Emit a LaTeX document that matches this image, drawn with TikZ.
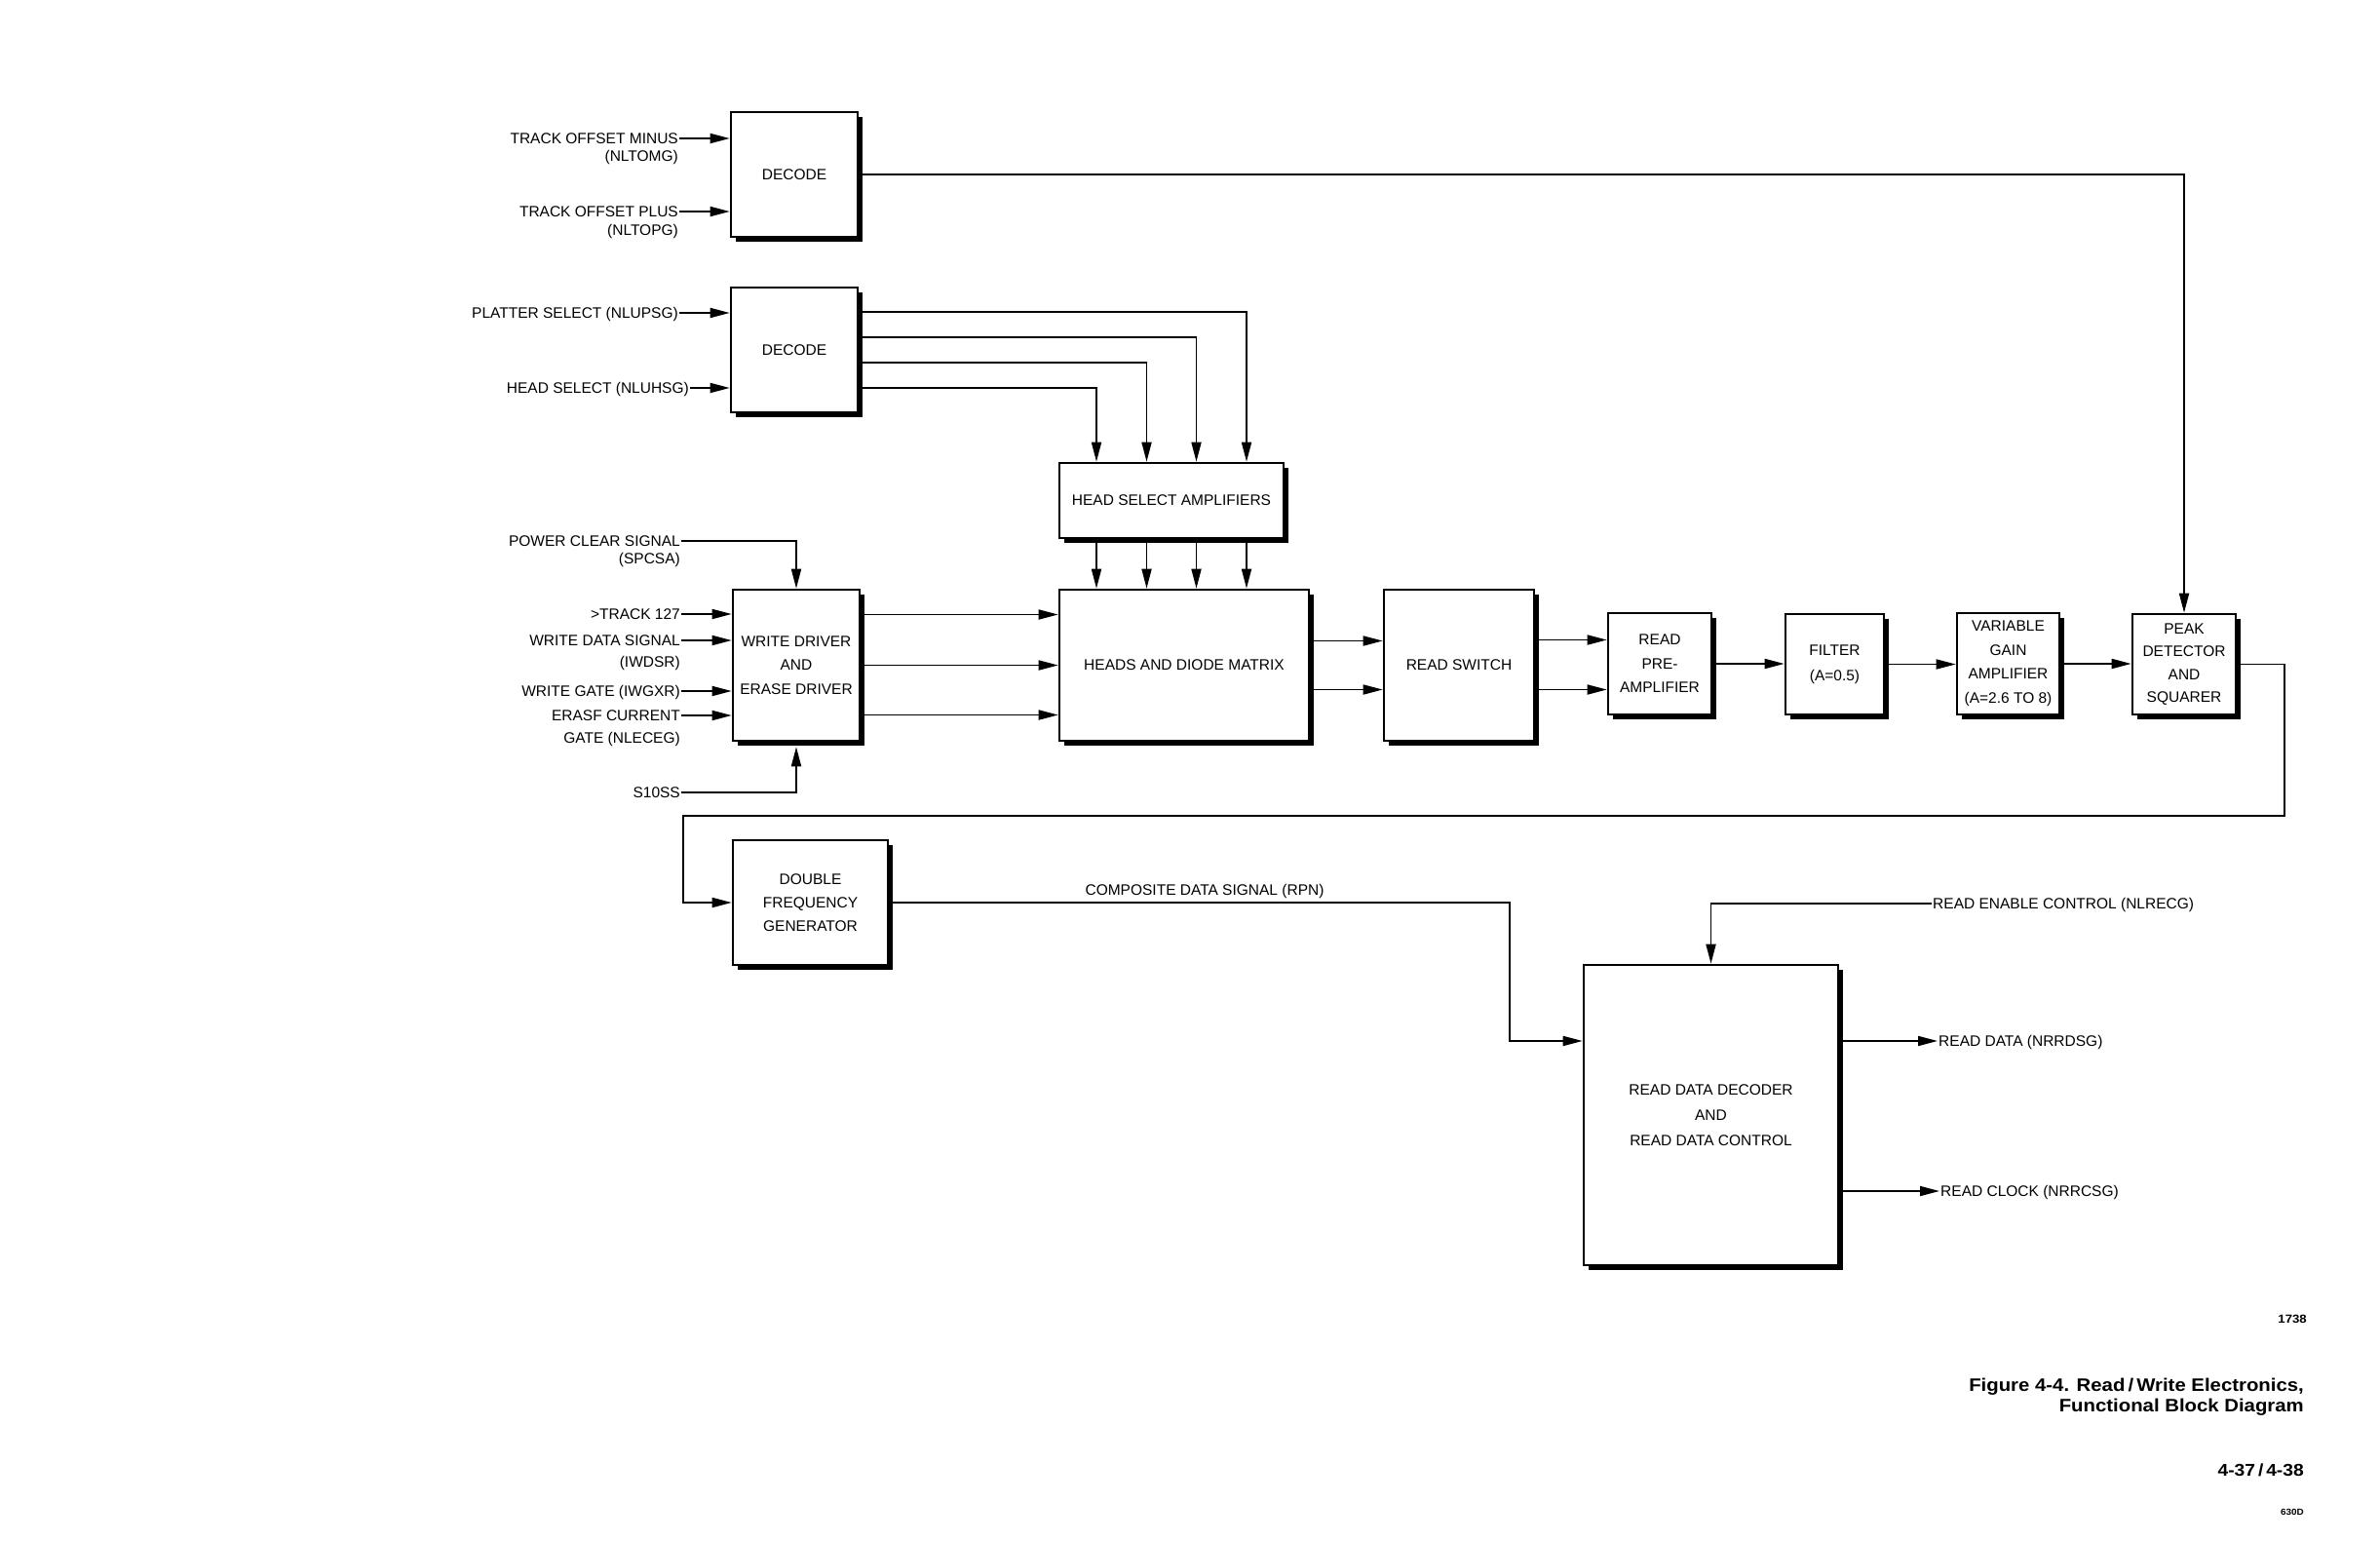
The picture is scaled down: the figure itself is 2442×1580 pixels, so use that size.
\documentclass[tikz,border=0pt]{standalone}
\usepackage{fontspec}
\setmainfont{Liberation Sans}
\newfontfamily\capfont[FakeStretch=1.1]{Liberation Sans}
\usetikzlibrary{arrows.meta,shadows}
\begin{document}
\begin{tikzpicture}[x=1pt,y=-1pt,
  blk/.style={draw, line width=2.6pt, fill=white, align=center, inner sep=0pt,
    font=\fontsize{15.5}{24.5}\selectfont,
    general shadow={fill=black, shadow xshift=5pt, shadow yshift=-5pt}},
  lbl/.style={font=\fontsize{15.5}{19}\selectfont, inner sep=1pt, text height=11.1pt, text depth=0pt},
  captxt/.style={font=\capfont\bfseries\fontsize{18.5}{21}\selectfont, inner sep=0pt},
  arr/.style={line width=1.8pt, -{Triangle[length=20pt,width=10pt]}}]
\fill[white] (0,0) rectangle (2442,1580);
\useasboundingbox (0,0) rectangle (2442,1580);

% ---------- blocks ----------
\node[blk, minimum width=130pt, minimum height=128pt] (dec1) at (815,179) {DECODE};
\node[blk, minimum width=130pt, minimum height=128pt] (dec2) at (815,359) {DECODE};
\node[blk, minimum width=130pt, minimum height=155pt] (wd) at (817,682.5) {WRITE DRIVER\\AND\\ERASE DRIVER};
\node[blk, minimum width=230pt, minimum height=77pt] (hsa) at (1202,513.5) {HEAD SELECT AMPLIFIERS};
\node[blk, minimum width=256pt, minimum height=155pt] (hdm) at (1215,682.5) {HEADS AND DIODE MATRIX};
\node[blk, minimum width=154pt, minimum height=155pt] (rs) at (1497,682.5) {READ SWITCH};
\node[blk, minimum width=106pt, minimum height=104pt] (rpa) at (1703,681) {READ\\PRE-\\AMPLIFIER};
\node[blk, minimum width=101pt, minimum height=103pt, font=\fontsize{15.5}{26}\selectfont] (fil) at (1882.5,681.5) {FILTER\\(A=0.5)};
\node[blk, minimum width=105pt, minimum height=104pt] (vga) at (2060.5,681) {VARIABLE\\GAIN\\AMPLIFIER\\(A=2.6 TO 8)};
\node[blk, minimum width=106pt, minimum height=103pt, font=\fontsize{15.5}{23.5}\selectfont] (pds) at (2241,681.5) {PEAK\\DETECTOR\\AND\\SQUARER};
\node[blk, minimum width=159pt, minimum height=128pt, font=\fontsize{15.5}{24}\selectfont] (dfg) at (831.5,926) {DOUBLE\\FREQUENCY\\GENERATOR};
\node[blk, minimum width=261pt, minimum height=308pt, font=\fontsize{15.5}{26}\selectfont] (rdd) at (1755.5,1144) {READ DATA DECODER\\AND\\READ DATA CONTROL};

% ---------- input labels ----------
\node[lbl, anchor=east] (tom) at (697,142) {TRACK OFFSET MINUS};
\node[lbl, anchor=east] (tom2) at (697,160) {(NLTOMG)};
\node[lbl, anchor=east] (top) at (697,217) {TRACK OFFSET PLUS};
\node[lbl, anchor=east] (top2) at (697,236) {(NLTOPG)};
\node[lbl, anchor=east] (ps) at (697,321) {PLATTER SELECT (NLUPSG)};
\node[lbl, anchor=east] (hs) at (708,398) {HEAD SELECT (NLUHSG)};
\node[lbl, anchor=east] (pc) at (699,555) {POWER CLEAR SIGNAL};
\node[lbl, anchor=east] (pc2) at (699,573) {(SPCSA)};
\node[lbl, anchor=east] (t127) at (699,630) {>TRACK 127};
\node[lbl, anchor=east] (wds) at (699,657) {WRITE DATA SIGNAL};
\node[lbl, anchor=east] (wds2) at (699,679) {(IWDSR)};
\node[lbl, anchor=east] (wg) at (699,709) {WRITE GATE (IWGXR)};
\node[lbl, anchor=east] (ec) at (699,734) {ERASF CURRENT};
\node[lbl, anchor=east] (ec2) at (699,757) {GATE (NLECEG)};
\node[lbl, anchor=east] (s10) at (699,813) {S10SS};

% ---------- input connectors ----------
\draw[arr] (tom.east) -- (tom.east -| dec1.west);
\draw[arr] (top.east) -- (top.east -| dec1.west);
\draw[arr] (ps.east) -- (ps.east -| dec2.west);
\draw[arr] (hs.east) -- (hs.east -| dec2.west);
\draw[arr] (pc.east) -| (wd.north);
\draw[arr] (t127.east) -- (t127.east -| wd.west);
\draw[arr] (wds.east) -- (wds.east -| wd.west);
\draw[arr] (wg.east) -- (wg.east -| wd.west);
\draw[arr] (ec.east) -- (ec.east -| wd.west);
\path (wd.south) ++(0,5) coordinate (wdb);
\draw[arr] (s10.east) -| (wdb);

% ---------- decode 1 to peak detector ----------
\draw[arr] (dec1.east) -| (pds.north);

% ---------- decode 2 to head select amplifiers ----------
\path (dec2.east) ++(0,-39) coordinate (d2a);
\path (dec2.east) ++(0,-13) coordinate (d2b);
\path (dec2.east) ++(0,13) coordinate (d2c);
\path (dec2.east) ++(0,39) coordinate (d2d);
\path (hsa.north) ++(77,0) coordinate (ha);
\path (hsa.north) ++(25.5,0) coordinate (hb);
\path (hsa.north) ++(-25.5,0) coordinate (hc);
\path (hsa.north) ++(-77,0) coordinate (hd);
\draw[arr] (d2a) -| (ha);
\draw[arr] (d2b) -| (hb);
\draw[arr] (d2c) -| (hc);
\draw[arr] (d2d) -| (hd);

% ---------- head select amplifiers to heads ----------
\path (hsa.south) ++(77,0) coordinate (sa);
\path (hsa.south) ++(25.5,0) coordinate (sb);
\path (hsa.south) ++(-25.5,0) coordinate (sc);
\path (hsa.south) ++(-77,0) coordinate (sd);
\draw[arr] (sa) -- (sa |- hdm.north);
\draw[arr] (sb) -- (sb |- hdm.north);
\draw[arr] (sc) -- (sc |- hdm.north);
\draw[arr] (sd) -- (sd |- hdm.north);

% ---------- write driver to heads ----------
\path (wd.east) ++(0,-52) coordinate (w1);
\path (wd.east) ++(0,0) coordinate (w2);
\path (wd.east) ++(0,51) coordinate (w3);
\draw[arr] (w1) -- (w1 -| hdm.west);
\draw[arr] (w2) -- (w2 -| hdm.west);
\draw[arr] (w3) -- (w3 -| hdm.west);

% ---------- read chain ----------
\path (hdm.east) ++(0,-25) coordinate (m1);
\path (hdm.east) ++(0,25) coordinate (m2);
\draw[arr] (m1) -- (m1 -| rs.west);
\draw[arr] (m2) -- (m2 -| rs.west);
\path (rs.east) ++(0,-26) coordinate (r1);
\path (rs.east) ++(0,25) coordinate (r2);
\draw[arr] (r1) -- (r1 -| rpa.west);
\draw[arr] (r2) -- (r2 -| rpa.west);
\draw[arr] (rpa.east) -- (rpa.east -| fil.west);
\draw[arr] (fil.east) -- (fil.east -| vga.west);
\draw[arr] (vga.east) -- (vga.east -| pds.west);

% ---------- loop back to double frequency generator ----------
\coordinate (c1) at (2344,837);
\coordinate (c2) at (701,837);
\draw[arr] (pds.east) -| (c1) -- (c2) |- (dfg.west);

% ---------- composite data signal ----------
\coordinate (c3) at (1549,1068);
\path (rdd.west) ++(0,-76) coordinate (rin);
\draw[arr] (dfg.east) -| (c3) -- (rin);
\node[lbl] (cds) at (1236,913) {COMPOSITE DATA SIGNAL (RPN)};

% ---------- read data decoder I/O ----------
\node[lbl, anchor=west] (rec) at (1982,927) {READ ENABLE CONTROL (NLRECG)};
\draw[arr] (rec.west) -| (rdd.north);
\node[lbl, anchor=west] (rdat) at (1988,1068) {READ DATA (NRRDSG)};
\draw[arr] (rdat.west -| rdd.east) -- (rdat.west);
\node[lbl, anchor=west] (rclk) at (1990,1222) {READ CLOCK (NRRCSG)};
\draw[arr] (rclk.west -| rdd.east) -- (rclk.west);

% ---------- caption ----------
\node[captxt, anchor=base east, font=\capfont\bfseries\fontsize{12}{14}\selectfont] (num) at (2367,1357) {1738};
\node[captxt, anchor=base east] (cap1) at (2364,1427.5) {Figure 4-4. Read\,/\,Write Electronics,};
\node[captxt, anchor=base east] (cap2) at (2364,1448.5) {Functional Block Diagram};
\node[captxt, anchor=base east, font=\capfont\bfseries\fontsize{17.5}{19}\selectfont] (pg) at (2364,1514) {4-37\,/\,4-38};
\node[captxt, anchor=base east, font=\capfont\bfseries\fontsize{9}{10}\selectfont] (code) at (2364,1554) {630D};
\end{tikzpicture}
\end{document}
